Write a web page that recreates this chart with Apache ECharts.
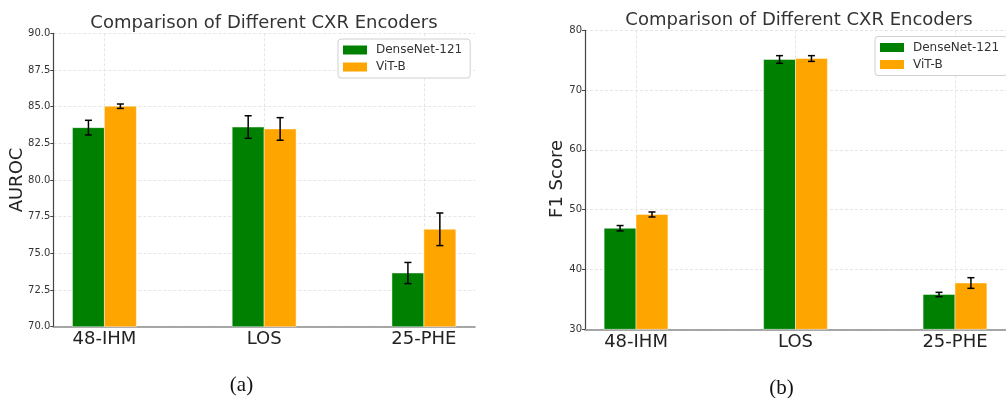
<!DOCTYPE html>
<html>
<head>
<meta charset="utf-8">
<title>Comparison of Different CXR Encoders</title>
<script src="https://cdn.jsdelivr.net/npm/echarts@6/dist/echarts.min.js"></script>
<style>
  html, body { margin: 0; padding: 0; background: #fff; }
  #chart { width: 1006px; height: 398px; }
</style>
</head>
<body>
<div id="chart"></div>
<script>
// Tasks on the x axis
const categories = ['48-IHM', 'LOS', '25-PHE'];
const seriesNames = ['DenseNet-121', 'ViT-B'];

// (a) AUROC, mean and std
const aurocDense = [83.57, 83.61, 73.66];
const aurocDenseErr = [0.50, 0.77, 0.72];
const aurocVit = [85.03, 83.48, 76.64];
const aurocVitErr = [0.15, 0.77, 1.11];

// (b) F1 score, mean and std
const f1Dense = [46.9, 75.12, 35.82];
const f1DenseErr = [0.45, 0.64, 0.36];
const f1Vit = [49.2, 75.28, 37.74];
const f1VitErr = [0.42, 0.48, 0.89];

// y axis ranges and tick steps
const aurocTicks = { min: 70, max: 90, interval: 2.5 };
const f1Ticks = { min: 30, max: 80, interval: 10 };

const GREEN = '#008000';
const ORANGE = '#FFA500';
const FONT = 'DejaVu Sans';
const BAR_W = 0.2;

function rows(vals, errs) {
  return vals.map((v, i) => [i, v, errs[i]]);
}

// bar + error bar drawn in data units through the axis scales
function makeRender(offset, base, color) {
  return function (params, api) {
    const x = api.value(0) + offset;
    const v = api.value(1);
    const e = api.value(2);
    const a = api.coord([x - BAR_W / 2, base]);
    const b = api.coord([x + BAR_W / 2, v]);
    const top = api.coord([x, v + e]);
    const bot = api.coord([x, v - e]);
    const cap = 3.5;
    const lineStyle = { stroke: '#000', lineWidth: 1.5 };
    return {
      type: 'group',
      children: [
        {
          type: 'rect',
          shape: { x: a[0], y: b[1], width: b[0] - a[0], height: a[1] - b[1] },
          style: { fill: color, stroke: 'rgba(255,255,255,0.45)', lineWidth: 1 }
        },
        { type: 'line', shape: { x1: top[0], y1: top[1], x2: bot[0], y2: bot[1] }, style: lineStyle },
        { type: 'line', shape: { x1: top[0] - cap, y1: top[1], x2: top[0] + cap, y2: top[1] }, style: lineStyle },
        { type: 'line', shape: { x1: bot[0] - cap, y1: bot[1], x2: bot[0] + cap, y2: bot[1] }, style: lineStyle }
      ]
    };
  };
}

function xAxisFor(gridIndex) {
  return {
    type: 'value', gridIndex: gridIndex, min: -0.32, max: 2.32,
    axisLine: { show: true, onZero: false, lineStyle: { color: '#8a8a8a', width: 1.6 } },
    axisTick: { show: false, customValues: [0, 1, 2] },
    axisLabel: {
      customValues: [0, 1, 2],
      formatter: v => categories[Math.round(v)] || '',
      fontFamily: FONT, fontSize: 18, color: '#222', margin: 4
    },
    splitLine: { show: true, lineStyle: { color: '#e0e0e0', type: [3, 2], width: 0.8 } }
  };
}

function yAxisFor(gridIndex, t, digits) {
  return {
    type: 'value', gridIndex: gridIndex, min: t.min, max: t.max, interval: t.interval,
    axisLine: { show: true, onZero: false, lineStyle: { color: '#444', width: 1.2 } },
    axisTick: { show: true, length: 3, lineStyle: { color: '#444' } },
    axisLabel: {
      formatter: v => v.toFixed(digits),
      fontFamily: FONT, fontSize: 10, color: '#333', margin: 3
    },
    splitLine: { show: true, lineStyle: { color: '#e0e0e0', type: [3, 2], width: 0.8 } }
  };
}

function legendAt(left, top) {
  return {
    data: seriesNames, orient: 'vertical', left: left, top: top,
    icon: 'rect', itemWidth: 24, itemHeight: 9, itemGap: 5,
    backgroundColor: '#fff', borderColor: '#d0d0d0', borderWidth: 1, borderRadius: 3,
    padding: [5, 8, 5, 5],
    textStyle: { fontFamily: FONT, fontSize: 12, color: '#333', padding: [0, 0, 0, 4] }
  };
}

function barSeries(name, data, offset, base, color, axisIndex) {
  return {
    type: 'custom', name: name,
    xAxisIndex: axisIndex, yAxisIndex: axisIndex,
    itemStyle: { color: color },
    data: data,
    renderItem: makeRender(offset, base, color),
    z: 3
  };
}

const chart = echarts.init(document.getElementById('chart'), null, { renderer: 'canvas' });

chart.setOption({
  animation: false,
  backgroundColor: '#fff',
  textStyle: { fontFamily: FONT },
  grid: [
    { left: 53.3, top: 33.3, width: 421.7, height: 293.4 },
    { left: 585, top: 30.3, width: 429.6, height: 299 }
  ],
  xAxis: [xAxisFor(0), xAxisFor(1)],
  yAxis: [yAxisFor(0, aurocTicks, 1), yAxisFor(1, f1Ticks, 0)],
  legend: [legendAt(338, 39), legendAt(875, 36.5)],
  graphic: [
    { type: 'text', x: 264, y: 23, style: { text: 'Comparison of Different CXR Encoders', align: 'center', verticalAlign: 'middle', font: '18px "DejaVu Sans"', fill: '#333' } },
    { type: 'text', x: 799, y: 20.5, style: { text: 'Comparison of Different CXR Encoders', align: 'center', verticalAlign: 'middle', font: '18px "DejaVu Sans"', fill: '#333' } },
    { type: 'text', x: 17.5, y: 180, rotation: Math.PI / 2, style: { text: 'AUROC', align: 'center', verticalAlign: 'middle', font: '18px "DejaVu Sans"', fill: '#222' } },
    { type: 'text', x: 557, y: 179, rotation: Math.PI / 2, style: { text: 'F1 Score', align: 'center', verticalAlign: 'middle', font: '18px "DejaVu Sans"', fill: '#222' } },
    { type: 'text', x: 241.5, y: 385, style: { text: '(a)', align: 'center', verticalAlign: 'middle', font: '21px "Liberation Serif"', fill: '#111' } },
    { type: 'text', x: 781.5, y: 388, style: { text: '(b)', align: 'center', verticalAlign: 'middle', font: '21px "Liberation Serif"', fill: '#111' } }
  ],
  series: [
    barSeries(seriesNames[0], rows(aurocDense, aurocDenseErr), -BAR_W / 2, aurocTicks.min, GREEN, 0),
    barSeries(seriesNames[1], rows(aurocVit, aurocVitErr), BAR_W / 2, aurocTicks.min, ORANGE, 0),
    barSeries(seriesNames[0], rows(f1Dense, f1DenseErr), -BAR_W / 2, f1Ticks.min, GREEN, 1),
    barSeries(seriesNames[1], rows(f1Vit, f1VitErr), BAR_W / 2, f1Ticks.min, ORANGE, 1)
  ]
});
</script>
</body>
</html>
